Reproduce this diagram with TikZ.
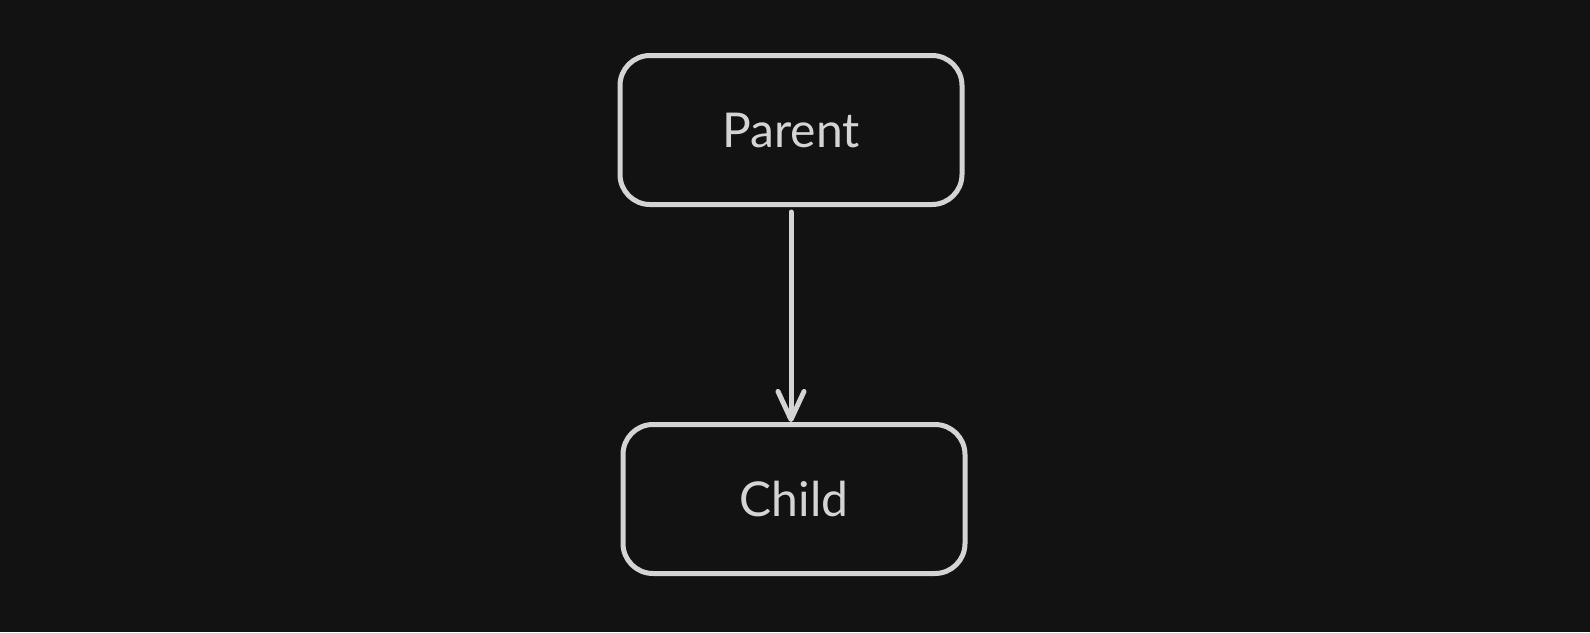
\documentclass[tikz,border=0pt]{standalone}
\usepackage{fontspec}
\setmainfont{Lato}
\usetikzlibrary{arrows.meta}
\definecolor{bg}{RGB}{18, 18, 18}
\definecolor{ink}{RGB}{212, 212, 212}

\begin{document}
\begin{tikzpicture}[
  box/.style={rectangle, rounded corners=30pt, minimum width=342pt, minimum height=149pt,
    line width=5pt, draw=ink, fill=bg, text=ink, font=\fontsize{48}{54}\selectfont},
  link/.style={line width=5pt, color=ink, line cap=round,
    -{Straight Barb[length=28pt, width=26pt, line width=5pt, round]}}]
\fill [bg] (0pt, 0pt) rectangle (1590pt, -632pt);
\useasboundingbox (0pt, 0pt) rectangle (1590pt, -632pt);
\node (parent) [box] at (791pt, -130pt) {Parent};
\node (child) [box] at (794pt, -499pt) {Child};
\draw [link, shorten <=5pt] (parent.south) to (parent.south |- child.north);
\end{tikzpicture}
\end{document}
